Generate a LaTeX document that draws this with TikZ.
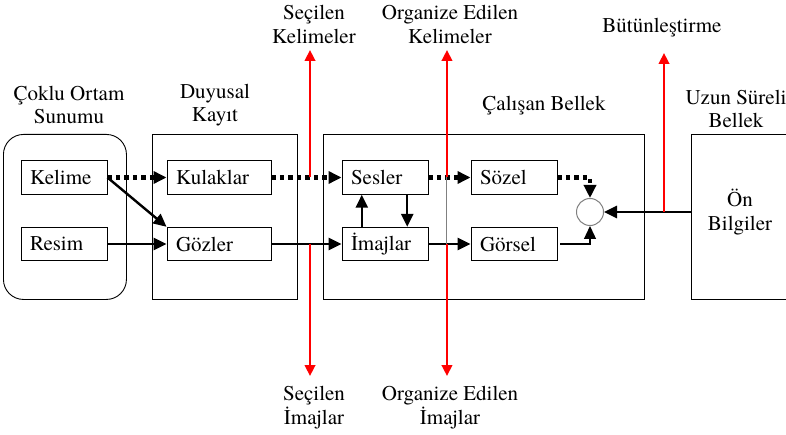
\documentclass[tikz,border=0pt]{standalone}
\usepackage{fontspec}
\setmainfont{texgyretermes-regular.otf}
\usetikzlibrary{arrows.meta,calc}

\begin{document}
\begin{tikzpicture}[x=1pt,y=-1pt,
  lbl/.style={font=\fontsize{21}{23.5}\selectfont, align=center, inner sep=0pt},
  stage/.style={draw, line width=0.9pt, inner sep=0pt, anchor=north west},
  unit/.style={draw, line width=0.9pt, font=\fontsize{21}{23.5}\selectfont,
    minimum height=33.5pt, inner xsep=9pt, inner ysep=0pt, text width=#1, align=left},
  tip/.style={-{Triangle[length=13pt,width=12pt]}},
  solidflow/.style={tip, line width=2.4pt},
  dotflow/.style={tip, line width=4.5pt, dash pattern=on 4.5pt off 4pt},
  redflow/.style={-{Triangle[length=11pt,width=10.5pt]}, red, line width=2.5pt},
]
\useasboundingbox (0,0) rectangle (786,435);

% stages
\node[stage, rounded corners=20pt, minimum width=123pt, minimum height=165pt] (coklu) at (3,134) {};
\node[stage, minimum width=145pt, minimum height=165pt] (duyusal) at (152,134) {};
\node[stage, minimum width=321pt, minimum height=165pt] (calisan) at (323,134) {};
\node[stage, minimum width=120pt, minimum height=165pt] (uzun) at (691,134) {};

% stage titles
\node[lbl] (tcoklu) at (69,105) {Çoklu Ortam\\Sunumu};
\node[lbl] (tduyusal) at (215,105) {Duyusal\\Kayıt};
\node[lbl] (tcalisan) at (544,106) {Çalışan Bellek};
\node[lbl] (tuzun) at (736,109) {Uzun Süreli\\Bellek};
\node[lbl] (onbilgi) at (740,212) {Ön\\Bilgiler};

% units
\node[unit=68pt] (kelime) at (64,177.5) {Kelime};
\node[unit=68pt] (resim) at (64,244) {Resim};
\node[unit=86pt] (kulaklar) at (219,177.5) {Kulaklar};
\node[unit=86pt] (gozler) at (219,244) {Gözler};
\node[unit=68pt] (sesler) at (385,177.5) {Sesler};
\node[unit=68pt] (imajlar) at (385,244) {İmajlar};
\node[unit=68pt] (sozel) at (514,177.5) {Sözel};
\node[unit=68pt] (gorsel) at (514,244) {Görsel};
\node[circle, draw=gray, line width=1pt, minimum size=27pt, inner sep=0pt] (sum) at (590,212) {};

% process labels
\node[lbl] (secK) at (314,24.5) {Seçilen\\Kelimeler};
\node[lbl] (orgK) at (450,24.5) {Organize Edilen\\Kelimeler};
\node[lbl] (secI) at (314,407.5) {Seçilen\\İmajlar};
\node[lbl] (orgI) at (450,407.5) {Organize Edilen\\İmajlar};
\node[lbl] (butun) at (662,28) {Bütünleştirme};

% flows
\draw[dotflow] (kelime.east) -- (kulaklar.west);
\draw[solidflow] (kelime.east) -- (gozler.north west);
\draw[solidflow] (resim.east) -- (gozler.west);
\draw[dotflow] (kulaklar.east) -- (sesler.west);
\draw[solidflow] (gozler.east) -- (imajlar.west);
\draw[solidflow] ($(imajlar.north west)!0.233!(imajlar.north east)$) -- ($(sesler.south west)!0.233!(sesler.south east)$);
\draw[solidflow] ($(sesler.south west)!0.756!(sesler.south east)$) -- ($(imajlar.north west)!0.756!(imajlar.north east)$);
\draw[dotflow] (sesler.east) -- (sozel.west);
\draw[solidflow] (imajlar.east) -- (gorsel.west);
\draw[dotflow] (sozel.east) -| (sum.north);
\draw[tip, line width=1.3pt] ([xshift=3pt]gorsel.east) -| (sum.south);
\draw[tip, line width=2.7pt] (uzun.west |- sum.east) -- (sum.east);

% selection / organisation / integration arrows
\coordinate (selA) at ($(kulaklar.east)!0.55!(sesler.west)$);
\coordinate (selB) at ($(gozler.east)!0.55!(imajlar.west)$);
\coordinate (orgA) at ($(sesler.east)!0.44!(sozel.west)$);
\coordinate (orgB) at ($(imajlar.east)!0.44!(gorsel.west)$);
\coordinate (intA) at (664,212);
\draw[gray, line width=1pt] (orgA) -- (orgB);
\draw[redflow] (selA) -- (selA |- 0,50);
\draw[redflow] (selB) -- (selB |- 0,376);
\draw[redflow] (orgA) -- (orgA |- 0,50);
\draw[redflow] (orgB) -- (orgB |- 0,376);
\draw[redflow] (intA) -- (intA |- 0,53);
\end{tikzpicture}
\end{document}
